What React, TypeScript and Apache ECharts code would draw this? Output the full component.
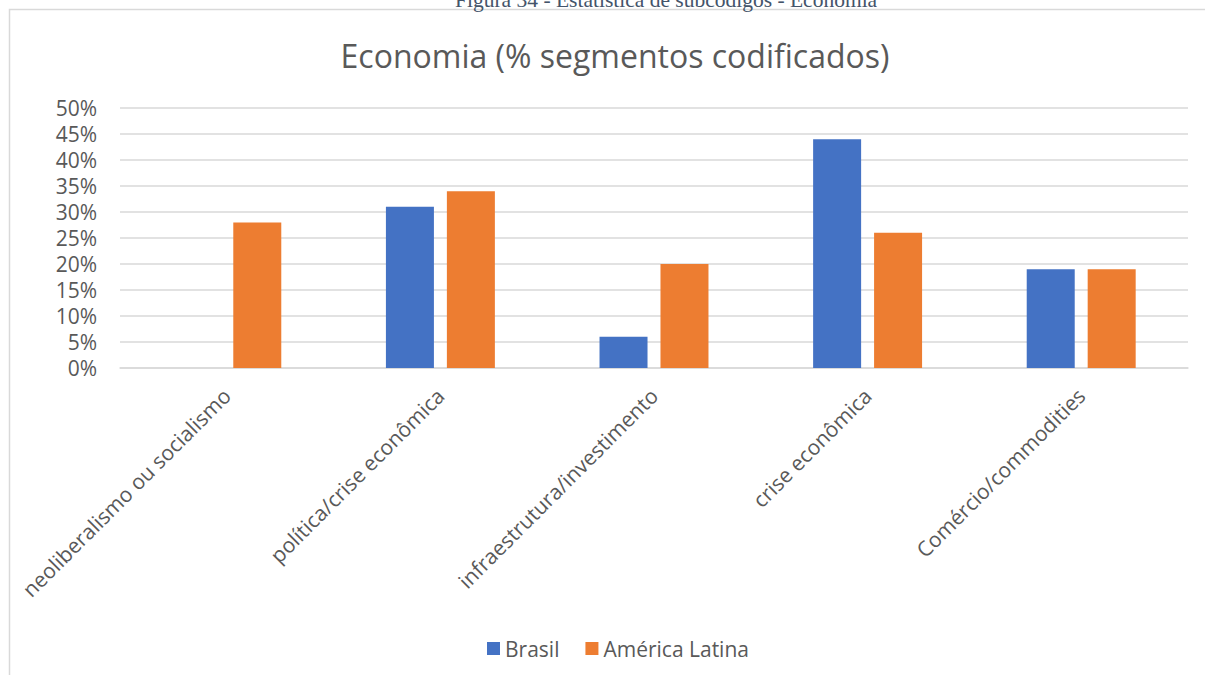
import React, { useEffect, useRef } from "react";
import * as echarts from "echarts";

const categories = [
  "neoliberalismo ou socialismo",
  "política/crise econômica",
  "infraestrutura/investimento",
  "crise econômica",
  "Comércio/commodities",
];
const brasil = [0, 31, 6, 44, 19];
const americaLatina = [28, 34, 20, 26, 19];
const seriesNames = ["Brasil", "América Latina"];
const titleText = "Economia (% segmentos codificados)";
const captionText = "Figura 34 - Estatística de subcódigos - Economia";

export default function App() {
  const ref = useRef<HTMLDivElement>(null);
  useEffect(() => {
    if (!ref.current) return;
    const chart = echarts.init(ref.current, null, { renderer: "svg" });
    const font = "'Open Sans', 'Noto Sans', sans-serif";
    chart.setOption({
      animation: false,
      backgroundColor: "#ffffff",
      textStyle: { fontFamily: font },
      title: {
        text: titleText,
        left: 610,
        textAlign: "center",
        top: 34,
        textStyle: { fontFamily: font, fontSize: 32, fontWeight: "normal", color: "#595959" },
      },
      graphic: [
        {
          type: "polyline",
          shape: { points: [[9.5, 700], [9.5, 9.5], [1220, 9.5]] },
          style: { fill: "none", stroke: "#d9d9d9", lineWidth: 1.5 },
          silent: true,
        },
        {
          type: "text",
          x: 455,
          y: 11,
          style: {
            text: captionText,
            fontFamily: "'Liberation Serif', 'DejaVu Serif', serif",
            fontSize: 21.5,
            fill: "#44546a",
            verticalAlign: "bottom",
          },
          silent: true,
        },
      ],
      legend: {
        data: seriesNames,
        left: 482,
        top: 633,
        itemWidth: 13,
        itemHeight: 13,
        itemGap: 26,
        icon: "rect",
        textStyle: { fontFamily: font, fontSize: 21, color: "#595959" },
      },
      grid: { left: 120, right: 17, top: 108, bottom: 307, containLabel: false },
      xAxis: {
        type: "category",
        data: categories,
        axisLine: { show: true, lineStyle: { color: "#d9d9d9", width: 1.5 } },
        axisTick: { show: false },
        axisLabel: {
          rotate: 45,
          interval: 0,
          margin: 24,
          fontFamily: font,
          fontSize: 21,
          color: "#595959",
        },
      },
      yAxis: {
        type: "value",
        min: 0,
        max: 50,
        interval: 5,
        axisLine: { show: false },
        axisTick: { show: false },
        axisLabel: {
          formatter: (v: number) => v + "%",
          margin: 23,
          fontFamily: font,
          fontSize: 21,
          color: "#595959",
        },
        splitLine: { lineStyle: { color: "#d9d9d9", width: 1.5 } },
      },
      series: [
        {
          name: seriesNames[0],
          type: "bar",
          data: brasil,
          barWidth: 48,
          barGap: "27%",
          itemStyle: { color: "#4472c4" },
        },
        {
          name: seriesNames[1],
          type: "bar",
          data: americaLatina,
          barWidth: 48,
          barGap: "27%",
          itemStyle: { color: "#ed7d31" },
        },
      ],
    });
    return () => chart.dispose();
  }, []);
  return (
    <div
      ref={ref}
      style={{ position: "fixed", left: 0, top: 0, width: 1205, height: 675 }}
    />
  );
}
